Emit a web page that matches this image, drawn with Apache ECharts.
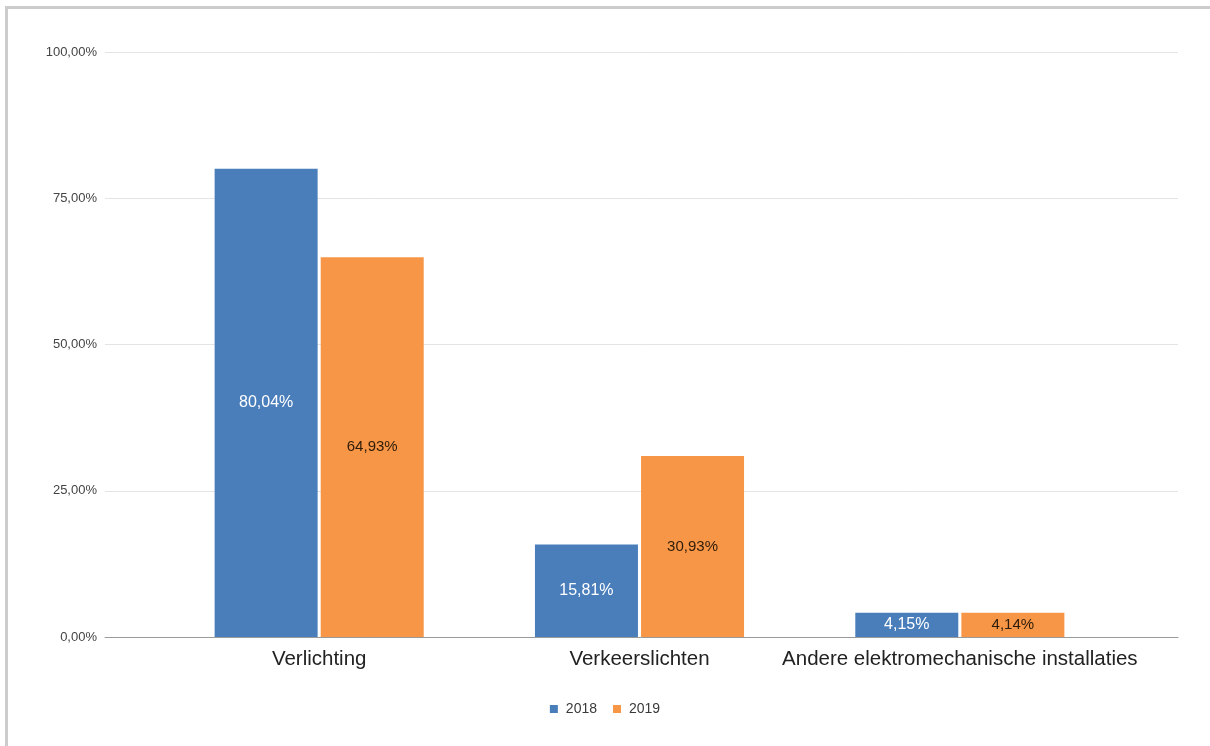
<!DOCTYPE html>
<html>
<head>
<meta charset="utf-8">
<script src="https://cdn.jsdelivr.net/npm/echarts@6/dist/echarts.min.js"></script>
<style>
  html, body { margin: 0; padding: 0; background: #fff; }
  #wrap { position: relative; width: 1210px; height: 746px; overflow: hidden; }
  #chart { position: absolute; left: 0; top: 0; width: 1210px; height: 746px; }
  #frame { position: absolute; left: 5px; top: 6px; width: 1300px; height: 900px;
           border-left: 3px solid #cccccc; border-top: 3px solid #cccccc; pointer-events: none; }
</style>
</head>
<body>
<div id="wrap">
  <div id="chart"></div>
  <div id="frame"></div>
</div>
<script>
// Share per installation type, in percent
const categories = ['Verlichting', 'Verkeerslichten', 'Andere elektromechanische installaties'];
const seriesNames = ['2018', '2019'];
const values2018 = [80.04, 15.81, 4.15];
const values2019 = [64.93, 30.93, 4.14];
const yTickStep = 25;

const BLUE = '#4a7ebb';
const ORANGE = '#f79646';
const FONT = '"Liberation Sans", Arial, sans-serif';

const pct = v => Number(v).toFixed(2).replace('.', ',') + '%';

const chart = echarts.init(document.getElementById('chart'), null, { renderer: 'canvas' });

chart.setOption({
  backgroundColor: '#ffffff',
  animation: false,
  textStyle: { fontFamily: FONT },
  legend: {
    data: seriesNames,
    left: 'center',
    top: 697,
    itemWidth: 8,
    itemHeight: 8,
    itemGap: 16,
    icon: 'rect',
    textStyle: { fontSize: 14, color: '#3a3a3a', fontFamily: FONT, padding: [0, 0, 0, 3] }
  },
  grid: [
    // wide grid carrying the value scale and the horizontal rules
    { left: 105, right: 32, top: 52, bottom: 109 },
    // narrower grid holding the categories and bars
    { left: 159, right: 90, top: 52, bottom: 109 }
  ],
  xAxis: [
    {
      gridIndex: 0, type: 'value', min: 0, max: 1,
      axisLine: { show: true, lineStyle: { color: '#9a9a9a', width: 1 } },
      axisTick: { show: false }, axisLabel: { show: false }, splitLine: { show: false }
    },
    {
      gridIndex: 1, type: 'category', data: categories,
      axisLine: { show: false }, axisTick: { show: false },
      axisLabel: { interval: 0, margin: 12, fontSize: 20.5, color: '#222', fontFamily: FONT }
    }
  ],
  yAxis: [
    {
      gridIndex: 0, type: 'value', min: 0, max: 100, interval: yTickStep,
      axisLine: { show: false }, axisTick: { show: false },
      axisLabel: {
        margin: 8, fontSize: 13, color: '#444', fontFamily: FONT,
        formatter: v => pct(v)
      },
      splitLine: { lineStyle: { color: '#e4e4e4', width: 1 } }
    },
    {
      gridIndex: 1, type: 'value', min: 0, max: 100, show: false,
      splitLine: { show: false }
    }
  ],
  series: [
    {
      name: seriesNames[0], type: 'bar', xAxisIndex: 1, yAxisIndex: 1,
      data: values2018, barWidth: 103, barGap: '3%',
      itemStyle: { color: BLUE },
      label: { show: true, position: 'inside', color: '#ffffff', fontSize: 16,
               fontFamily: FONT, formatter: p => pct(p.value) }
    },
    {
      name: seriesNames[1], type: 'bar', xAxisIndex: 1, yAxisIndex: 1,
      data: values2019, barWidth: 103,
      itemStyle: { color: ORANGE },
      label: { show: true, position: 'inside', color: '#2e1c0a', fontSize: 15,
               fontFamily: FONT, formatter: p => pct(p.value) }
    }
  ]
});
</script>
</body>
</html>
